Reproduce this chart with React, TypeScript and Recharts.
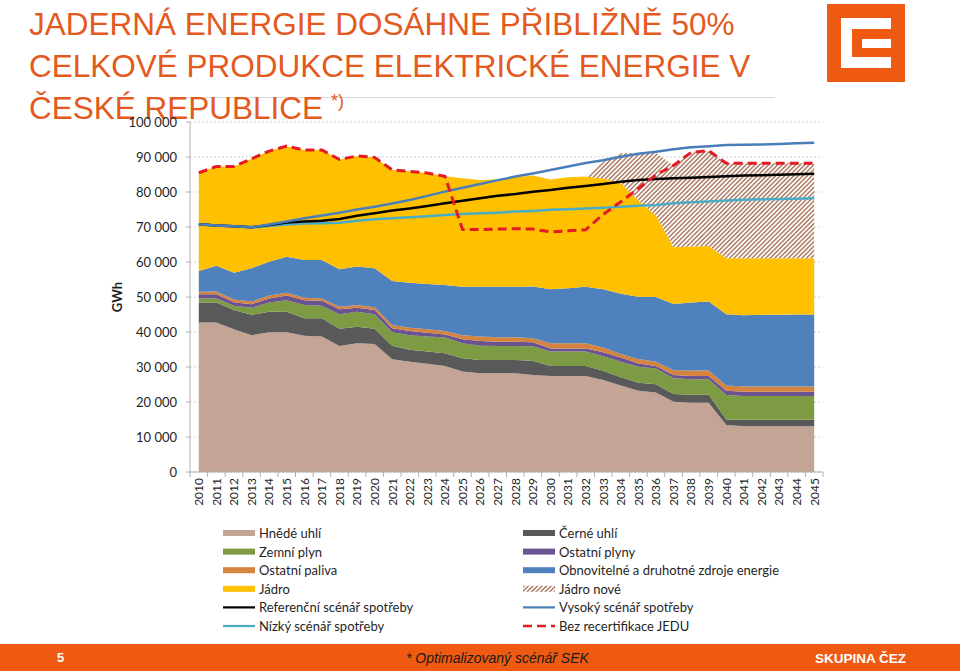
import React from 'react';
import { ComposedChart, Area, Line, XAxis, YAxis, CartesianGrid } from 'recharts';

const years = [
  '2010', '2011', '2012', '2013', '2014', '2015', '2016', '2017', '2018', '2019',
  '2020', '2021', '2022', '2023', '2024', '2025', '2026', '2027', '2028', '2029',
  '2030', '2031', '2032', '2033', '2034', '2035', '2036', '2037', '2038', '2039',
  '2040', '2041', '2042', '2043', '2044', '2045',
];

const hnedeUhli = [
  42700, 42700, 40800, 39100, 39900, 39900, 38900, 38700, 36000, 36800,
  36600, 32200, 31500, 30900, 30300, 28700, 28200, 28200, 28200, 27700,
  27400, 27400, 27400, 26300, 24700, 23200, 22700, 20100, 19800, 19800,
  13400, 13100, 13100, 13100, 13100, 13100,
];
const cerneUhli = [
  5700, 5700, 5500, 5800, 5900, 5900, 5000, 5200, 4900, 4700,
  4300, 3900, 3400, 3500, 3600, 3800, 3800, 3800, 3800, 4100,
  2900, 2900, 2900, 2600, 2400, 2300, 2400, 2200, 2300, 2300,
  1600, 1800, 1800, 1800, 1800, 1800,
];
const zemniPlyn = [
  1200, 1200, 1200, 2000, 2600, 3300, 3800, 3600, 4200, 4300,
  4200, 3800, 4200, 4300, 4500, 4300, 4100, 4000, 4000, 4100,
  4100, 4100, 4100, 4200, 4400, 4600, 4500, 4500, 4400, 4400,
  7000, 6800, 6800, 6800, 6800, 6800,
];
const ostatniPlyny = [
  1200, 1200, 1000, 1000, 1200, 1300, 1400, 1400, 1400, 1100,
  1200, 1200, 1200, 1100, 900, 1100, 1300, 1200, 1200, 1200,
  900, 900, 900, 1100, 1200, 900, 700, 900, 900, 900,
  1200, 1200, 1200, 1200, 1200, 1200,
];
const ostatniPaliva = [
  700, 800, 800, 800, 800, 800, 700, 700, 700, 800,
  800, 900, 900, 1000, 1000, 1200, 1300, 1300, 1300, 1100,
  1500, 1500, 1500, 1400, 1000, 1300, 1200, 1400, 1600, 1600,
  1500, 1500, 1500, 1500, 1500, 1500,
];
const obnovitelne = [
  5900, 7300, 7600, 9500, 9700, 10300, 10800, 11000, 10700, 11000,
  11100, 12600, 12900, 12900, 13100, 13800, 14200, 14400, 14400, 14800,
  15400, 15700, 16100, 16600, 17200, 17800, 18500, 18900, 19400, 19700,
  20400, 20400, 20500, 20500, 20600, 20600,
];
const jadro = [
  28100, 28400, 30400, 31300, 31600, 31600, 31400, 31400, 31400, 31600,
  31700, 31700, 31800, 31700, 31100, 31000, 30500, 30700, 31300, 31700,
  31400, 31700, 31500, 31700, 31600, 27500, 23300, 16200, 16000, 15900,
  16000, 16300, 16200, 16200, 16100, 16100,
];
const jadroNove = [
  0, 0, 0, 0, 0, 0, 0, 0, 0, 0,
  0, 0, 0, 0, 0, 0, 0, 0, 0, 0,
  0, 0, 0, 4700, 8600, 13600, 17900, 23300, 26900, 27200,
  27100, 27100, 27100, 27100, 27100, 27100,
];
const referencni = [
  70800, 70400, 70200, 69900, 70600, 71300, 71600, 71800, 72300, 73200,
  73900, 74700, 75300, 76000, 76800, 77500, 78200, 78900, 79400, 80100,
  80600, 81200, 81700, 82300, 82900, 83400, 83700, 83900, 84100, 84300,
  84500, 84700, 84800, 84900, 85100, 85200,
];
const vysoky = [
  70800, 70400, 70200, 69900, 70700, 71600, 72500, 73300, 74100, 75000,
  75800, 76700, 77700, 78900, 80100, 81200, 82300, 83400, 84400, 85300,
  86300, 87300, 88300, 89100, 90100, 90900, 91500, 92200, 92800, 93100,
  93400, 93500, 93600, 93700, 93900, 94100,
];
const nizky = [
  70800, 70400, 70200, 69900, 70300, 70700, 71000, 71100, 71200, 71800,
  72200, 72500, 72800, 73100, 73400, 73700, 73900, 74100, 74400, 74600,
  74900, 75100, 75300, 75500, 75800, 76100, 76300, 76800, 77100, 77300,
  77600, 77800, 77900, 78000, 78100, 78200,
];
const bezRecertifikace = [
  85500, 87300, 87300, 89500, 91700, 93100, 92000, 92000, 89300, 90300,
  89900, 86300, 85900, 85400, 84500, 69300, 69300, 69400, 69500, 69400,
  68600, 68900, 69200, 73600, 77200, 81000, 84900, 87600, 91300, 91800,
  88200, 88200, 88200, 88200, 88200, 88200,
];

const yTicks = [0, 10000, 20000, 30000, 40000, 50000, 60000, 70000, 80000, 90000, 100000];

const titleLines = [
  'JADERNÁ ENERGIE DOSÁHNE PŘIBLIŽNĚ 50%',
  'CELKOVÉ PRODUKCE ELEKTRICKÉ ENERGIE V',
  'ČESKÉ REPUBLICE',
];

const data = years.map((year, i) => ({
  year,
  hnede: hnedeUhli[i],
  cerne: cerneUhli[i],
  plyn: zemniPlyn[i],
  plyny: ostatniPlyny[i],
  paliva: ostatniPaliva[i],
  obnov: obnovitelne[i],
  jadro: jadro[i],
  jadroNove: jadroNove[i],
  ref: referencni[i],
  vys: vysoky[i],
  niz: nizky[i],
  bez: bezRecertifikace[i],
}));

const FONT = 'Lato, "Liberation Sans", Arial, sans-serif';
const ARIAL = '"Liberation Sans", Arial, sans-serif';
const ORANGE = '#EE5A12';

const C = {
  hnede: '#C4A595',
  cerne: '#595959',
  plyn: '#7D9B43',
  plyny: '#6A5390',
  paliva: '#D5843F',
  obnov: '#4F81BD',
  jadro: '#FFC000',
  ref: '#000000',
  vys: '#4A7EBB',
  niz: '#4BACC6',
  bez: '#E31B23',
};

const fmt = (v: number) => String(v).replace(/\B(?=(\d{3})+(?!\d))/g, ' ');

const HALF_BAND = 8.79;

const XTick = (props: any) => {
  const { x, y, payload, index } = props;
  return (
    <g transform={`translate(${x},${y})`}>
      <line x1={-HALF_BAND} y1={0} x2={-HALF_BAND} y2={5} stroke="#B0B0B0" />
      {index === years.length - 1 && (
        <line x1={HALF_BAND} y1={0} x2={HALF_BAND} y2={5} stroke="#B0B0B0" />
      )}
      <text
        transform="rotate(-90)"
        x={-6}
        y={0}
        dy="0.36em"
        textAnchor="end"
        fontSize={12}
        fill="#1f1f1f"
        fontFamily={FONT}
      >
        {payload.value}
      </text>
    </g>
  );
};

type LegendItem = { label: string; kind: 'rect' | 'line' | 'dash' | 'hatch'; color: string };
const legendItems: LegendItem[] = [
  { label: 'Hnědé uhlí', kind: 'rect', color: C.hnede },
  { label: 'Černé uhlí', kind: 'rect', color: C.cerne },
  { label: 'Zemní plyn', kind: 'rect', color: C.plyn },
  { label: 'Ostatní plyny', kind: 'rect', color: C.plyny },
  { label: 'Ostatní paliva', kind: 'rect', color: C.paliva },
  { label: 'Obnovitelné a druhotné zdroje energie', kind: 'rect', color: C.obnov },
  { label: 'Jádro', kind: 'rect', color: C.jadro },
  { label: 'Jádro nové', kind: 'hatch', color: '#B07A60' },
  { label: 'Referenční scénář spotřeby', kind: 'line', color: C.ref },
  { label: 'Vysoký scénář spotřeby', kind: 'line', color: C.vys },
  { label: 'Nízký scénář spotřeby', kind: 'line', color: C.niz },
  { label: 'Bez recertifikace JEDU', kind: 'dash', color: C.bez },
];

const Hatch = ({ id }: { id: string }) => (
  <pattern id={id} patternUnits="userSpaceOnUse" width={3.2} height={3.2} patternTransform="rotate(45)">
    <rect x={0} y={0} width={3.2} height={3.2} fill="#FFFFFF" />
    <line x1={0.8} y1={0} x2={0.8} y2={3.2} stroke="#A8735A" strokeWidth={1.4} />
  </pattern>
);

export default function App() {
  return (
    <div style={{ position: 'absolute', left: 0, top: 0, width: 960, height: 671, background: '#fff', overflow: 'hidden' }}>
      {/* title layer */}
      <svg width={960} height={671} style={{ position: 'absolute', left: 0, top: 0 }}>
        <line x1={172} y1={97.5} x2={775} y2={97.5} stroke="#D9D9D9" strokeWidth={1} />
        {titleLines.map((t, i) => (
          <text key={i} x={29} y={34.5 + i * 42} fontSize={31.5} fill="#E35A1E" fontFamily={ARIAL}>
            {t}
            {i === 2 && (
              <tspan dx={8} dy={-12} fontSize={18}>
                *)
              </tspan>
            )}
          </text>
        ))}
      </svg>

      <div style={{ position: 'absolute', left: 0, top: 0 }}>
        <ComposedChart
          width={960}
          height={671}
          data={data}
          margin={{ top: 122, right: 137, bottom: 159, left: 0 }}
        >
          <defs>
            <Hatch id="hatchNew" />
          </defs>
          <CartesianGrid vertical={false} stroke="#D0D0D0" strokeDasharray="2 2" />
          <XAxis
            dataKey="year"
            height={40}
            interval={0}
            padding={{ left: HALF_BAND, right: HALF_BAND }}
            tick={<XTick />}
            tickLine={false}
            tickSize={0}
            tickMargin={0}
            axisLine={{ stroke: '#B0B0B0' }}
          />
          <YAxis
            width={190}
            domain={[0, 100000]}
            ticks={yTicks}
            tickFormatter={fmt}
            tickSize={4}
            tickMargin={9}
            tick={{ fontSize: 13, fill: '#1f1f1f', fontFamily: FONT }}
            tickLine={{ stroke: '#B0B0B0' }}
            axisLine={{ stroke: '#B0B0B0' }}
            allowDataOverflow
          />
          <Area type="linear" dataKey="hnede" name="Hnědé uhlí" stackId="s" fill={C.hnede} fillOpacity={1} stroke="none" isAnimationActive={false} />
          <Area type="linear" dataKey="cerne" name="Černé uhlí" stackId="s" fill={C.cerne} fillOpacity={1} stroke="none" isAnimationActive={false} />
          <Area type="linear" dataKey="plyn" name="Zemní plyn" stackId="s" fill={C.plyn} fillOpacity={1} stroke="none" isAnimationActive={false} />
          <Area type="linear" dataKey="plyny" name="Ostatní plyny" stackId="s" fill={C.plyny} fillOpacity={1} stroke="none" isAnimationActive={false} />
          <Area type="linear" dataKey="paliva" name="Ostatní paliva" stackId="s" fill={C.paliva} fillOpacity={1} stroke="none" isAnimationActive={false} />
          <Area type="linear" dataKey="obnov" name="Obnovitelné a druhotné zdroje energie" stackId="s" fill={C.obnov} fillOpacity={1} stroke="none" isAnimationActive={false} />
          <Area type="linear" dataKey="jadro" name="Jádro" stackId="s" fill={C.jadro} fillOpacity={1} stroke="none" isAnimationActive={false} />
          <Area type="linear" dataKey="jadroNove" name="Jádro nové" stackId="s" fill="url(#hatchNew)" fillOpacity={1} stroke="none" isAnimationActive={false} />
          <Line type="linear" dataKey="niz" name="Nízký scénář spotřeby" stroke={C.niz} strokeWidth={2.5} dot={false} isAnimationActive={false} />
          <Line type="linear" dataKey="ref" name="Referenční scénář spotřeby" stroke={C.ref} strokeWidth={2.5} dot={false} isAnimationActive={false} />
          <Line type="linear" dataKey="vys" name="Vysoký scénář spotřeby" stroke={C.vys} strokeWidth={2.5} dot={false} isAnimationActive={false} />
          <Line type="linear" dataKey="bez" name="Bez recertifikace JEDU" stroke={C.bez} strokeWidth={3} strokeDasharray="9 5" dot={false} isAnimationActive={false} />
        </ComposedChart>
      </div>

      {/* decorations: axis title, legend, logo, footer */}
      <svg width={960} height={671} style={{ position: 'absolute', left: 0, top: 0, pointerEvents: 'none' }}>
        <defs>
          <Hatch id="hatchLegend" />
        </defs>
        <text x={117} y={297} transform="rotate(-90 117 297)" textAnchor="middle" dominantBaseline="central" fontSize={13} fontWeight="bold" fill="#1f1f1f" fontFamily={FONT}>
          GWh
        </text>

        {legendItems.map((it, i) => {
          const col = i % 2;
          const row = Math.floor(i / 2);
          const sx = col === 0 ? 223 : 523;
          const tx = col === 0 ? 259 : 559;
          const cy = 533 + row * 18.6;
          let sw: React.ReactNode = null;
          if (it.kind === 'rect') sw = <rect x={sx} y={cy - 3} width={32} height={6} fill={it.color} />;
          if (it.kind === 'hatch') sw = <rect x={sx} y={cy - 3} width={32} height={6} fill="url(#hatchLegend)" />;
          if (it.kind === 'line') sw = <line x1={sx} y1={cy} x2={sx + 32} y2={cy} stroke={it.color} strokeWidth={2.2} />;
          if (it.kind === 'dash') sw = <line x1={sx} y1={cy} x2={sx + 32} y2={cy} stroke={it.color} strokeWidth={2.6} strokeDasharray="9 5" />;
          return (
            <g key={it.label}>
              {sw}
              <text x={tx} y={cy} dominantBaseline="central" fontSize={13} fill="#1f1f1f" fontFamily={FONT}>
                {it.label}
              </text>
            </g>
          );
        })}

        {/* logo */}
        <rect x={827} y={4} width={78} height={78} fill={ORANGE} />
        <path d="M841 18 H891 V29 H852 V57 H891 V68 H841 Z" fill="#fff" />
        <rect x={862} y={39} width={29} height={9} fill="#fff" />

        {/* footer */}
        <rect x={0} y={644} width={960} height={27} fill={ORANGE} />
        <text x={57} y={662} fontSize={13} fontWeight="bold" fill="#fff" fontFamily={ARIAL}>5</text>
        <text x={406} y={663} fontSize={14} fontStyle="italic" fill="#1a1a1a" fontFamily={ARIAL}>* Optimalizovaný scénář SEK</text>
        <text x={815} y={663} fontSize={13.5} fontWeight="bold" fill="#fff" fontFamily={ARIAL}>SKUPINA ČEZ</text>
      </svg>
    </div>
  );
}
